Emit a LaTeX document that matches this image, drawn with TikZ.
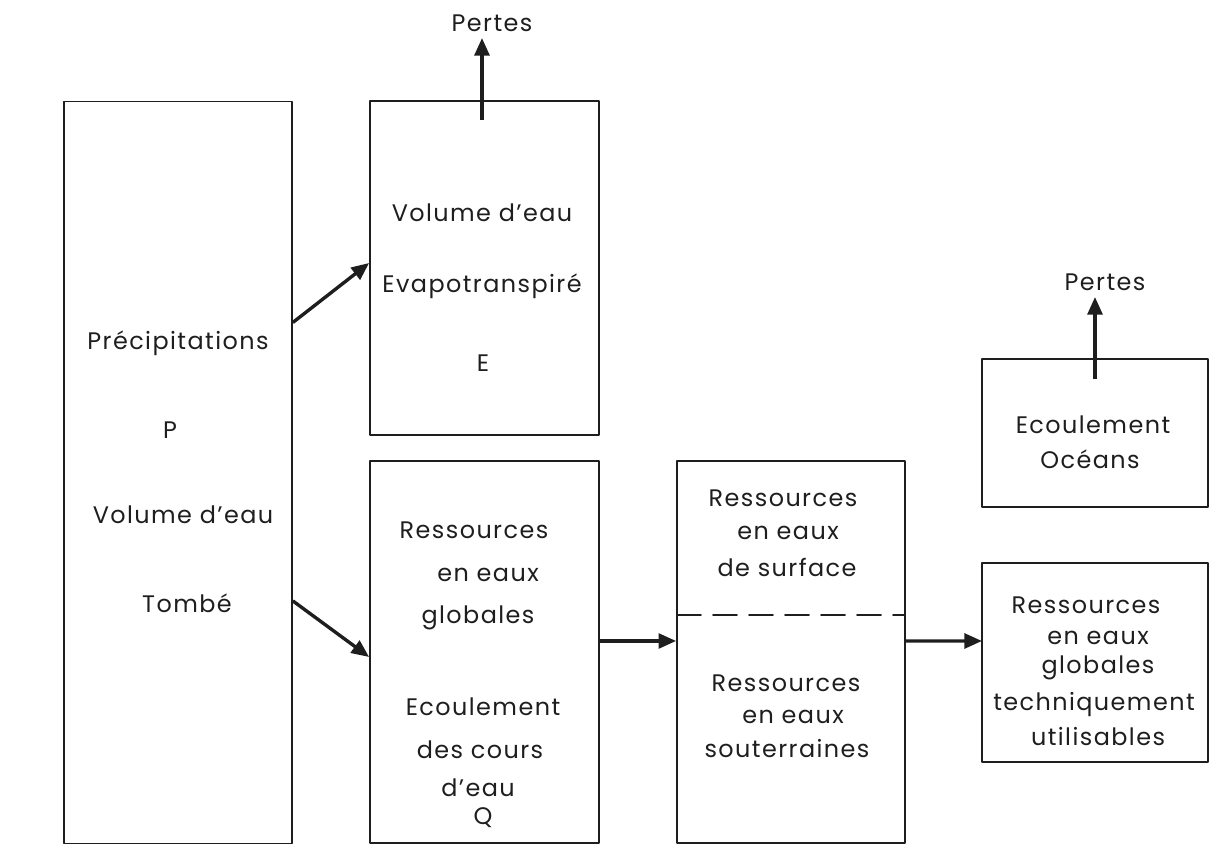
\documentclass[tikz,border=0pt]{standalone}
\usepackage{fontspec}
\setmainfont[LetterSpace=6]{Poppins}
\usepackage{tikz}
\usetikzlibrary{arrows.meta,positioning}
\definecolor{ink}{HTML}{1E1E1E}
\tikzset{
    every picture/.style={line cap=round,line join=round},
    bilanbox/.style={draw=ink,line width=1.2pt,rectangle,inner sep=0pt},
    lbl/.style={text=ink,font=\fontsize{17}{20}\selectfont,inner sep=1pt},
    flowarrow/.style={-{Triangle[length=4.4mm,width=3.7mm]},draw=ink,
      line width=2.4pt,line cap=butt}
}

\begin{document}
\begin{tikzpicture}[x=0.025cm,y=-0.025cm]
  \useasboundingbox (0,0) rectangle (1213,845);
  % boxes
  \node[bilanbox,minimum width=5.7cm,minimum height=18.55cm] (prec) at (178,472.5) {};
  \node[bilanbox,minimum width=5.725cm,minimum height=8.35cm] (evap) at (484.5,268) {};
  \node[bilanbox,minimum width=5.725cm,minimum height=9.55cm] (glob) at (484.5,652) {};
  \node[bilanbox,minimum width=5.7cm,minimum height=9.55cm] (surf) at (791,652) {};
  \node[bilanbox,minimum width=5.65cm,minimum height=3.7cm] (ocean) at (1095,433) {};
  \node[bilanbox,minimum width=5.65cm,minimum height=4.975cm] (tech) at (1095,662.5) {};
  % surface / souterraines split
  \coordinate (splitw) at (677,615);
  \coordinate (splite) at (905,615);
  \draw[ink,line width=1.2pt,dash pattern=on 0.6cm off 0.3cm] (splitw)--(splite);

  % texts
  \node[lbl] (t1) at (178,343) {Précipitations};
  \node[lbl] (t2) at (170,430) {P};
  \node[lbl] (t3) at (183,515) {Volume d’eau};
  \node[lbl] (t4) at (187,603) {Tombé};
  \node[lbl] (t5) at (482,213) {Volume d’eau};
  \node[lbl] (t6) at (482,286) {Evapotranspiré};
  \node[lbl] (t7) at (483,363) {E};
  \node[lbl] (t8) at (474,530) {Ressources};
  \node[lbl] (t9) at (488,575) {en eaux};
  \node[lbl] (t10) at (478,618) {globales};
  \node[lbl] (t11) at (483,707) {Ecoulement};
  \node[lbl] (t12) at (480,750) {des cours};
  \node[lbl] (t13) at (478,788) {d’eau};
  \node[lbl] (t14) at (483,818) {Q};
  \node[lbl] (t15) at (783,498) {Ressources};
  \node[lbl] (t16) at (788,533) {en eaux};
  \node[lbl] (t17) at (787,567) {de surface};
  \node[lbl] (t18) at (786,683) {Ressources};
  \node[lbl] (t19) at (793,717) {en eaux};
  \node[lbl] (t20) at (787,749) {souterraines};
  \node[lbl] (t21) at (1093,425) {Ecoulement};
  \node[lbl] (t22) at (1090,459) {Océans};
  \node[lbl] (t23) at (1086,605) {Ressources};
  \node[lbl] (t24) at (1098,638) {en eaux};
  \node[lbl] (t25) at (1098,668) {globales};
  \node[lbl] (t26) at (1094,705) {techniquement};
  \node[lbl] (t27) at (1098,737) {utilisables};
  \node[lbl] (loss1) at (492,23) {Pertes};
  \node[lbl] (loss2) at (1105,282) {Pertes};

  % flows
  \coordinate (up1) at (482,38);
  \coordinate (up2) at (1095,297);
  \coordinate (in4) at (982,641);
  \draw[flowarrow] ([yshift=-0.5cm]evap.north-|up1) -- (up1);
  \draw[flowarrow] ([yshift=-0.525cm]ocean.north-|up2) -- (up2);
  \draw[flowarrow] ([yshift=3.75cm]prec.east) -- ([yshift=0.125cm]evap.west);
  \draw[flowarrow] ([yshift=-3.21cm]prec.east) -- ([yshift=-0.125cm]glob.west);
  \draw[flowarrow] ([yshift=0.275cm]glob.east) -- ([yshift=0.275cm]surf.west);
  \draw[flowarrow] ([yshift=0.275cm]surf.east) -- (in4);
\end{tikzpicture}
\end{document}
